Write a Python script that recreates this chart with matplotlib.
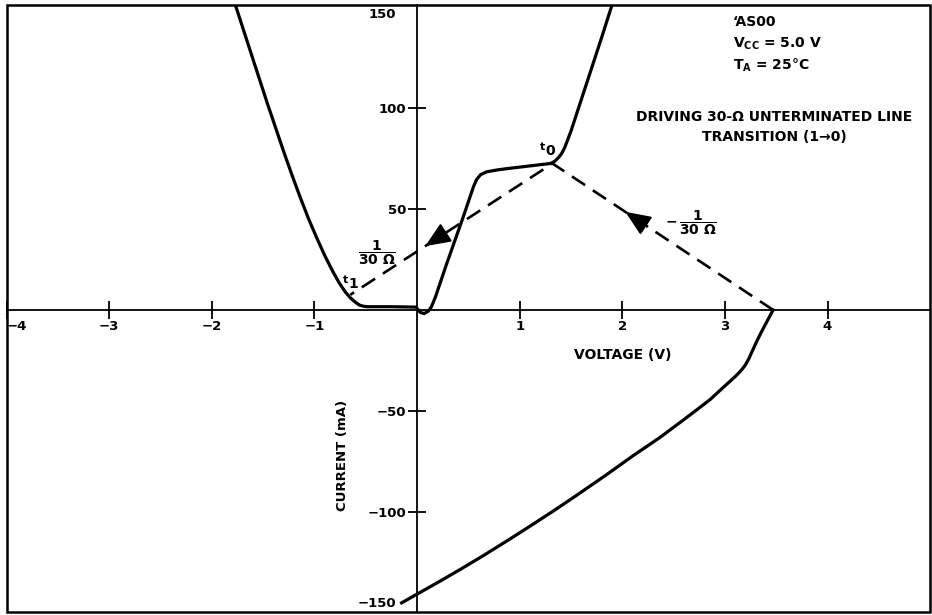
import numpy as np
import matplotlib
matplotlib.use('Agg')
import matplotlib.pyplot as plt
from matplotlib.patches import Rectangle

plt.rcParams['font.family'] = ['DejaVu Sans']
plt.rcParams['font.weight'] = 'bold'
plt.rcParams['mathtext.fontset'] = 'custom'
plt.rcParams['mathtext.rm'] = 'DejaVu Sans:bold'
plt.rcParams['mathtext.it'] = 'DejaVu Sans:bold'
plt.rcParams['mathtext.bf'] = 'DejaVu Sans:bold'

# low-state output characteristic (V, mA)
low_v = [-1.77, -1.70, -1.62, -1.54, -1.46, -1.38, -1.30, -1.22, -1.14, -1.06,
         -0.98, -0.90, -0.82, -0.76, -0.70, -0.65, -0.60, -0.56, -0.52, -0.48,
         -0.25, -0.01, 0.03, 0.07, 0.11, 0.14, 0.18, 0.23, 0.29, 0.37, 0.45,
         0.51, 0.55, 0.58, 0.62, 0.68, 0.78, 0.90, 1.10, 1.30, 1.34, 1.38,
         1.41, 1.44, 1.50, 1.60, 1.70, 1.80, 1.90]
low_i = [151, 140, 127.5, 115, 102.5, 90.5, 78.5, 67, 56, 45.5,
         36, 27, 19, 13.5, 9, 6, 3.8, 2.4, 1.8, 1.6,
         1.6, 1.4, -1.2, -1.8, -0.6, 1.5, 6.5, 14, 23, 34.5, 46,
         55, 61, 64.5, 67, 68.4, 69.3, 70.1, 71.3, 72.5, 73.5, 75.5,
         77.5, 80.5, 88.5, 104, 119.5, 135, 151]

# high-state output characteristic
high_v = [3.47, 3.43, 3.39, 3.35, 3.31, 3.27, 3.235, 3.20, 3.16, 3.10, 3.02,
          2.94, 2.86, 2.73, 2.60, 2.36, 2.11, 1.84, 1.56, 1.35, 1.13, 0.89,
          0.65, 0.43, 0.22, 0.0, -0.15]
high_i = [0, -3.8, -7.6, -11.5, -15.6, -20, -24, -27.2, -29.9, -33, -36.7,
          -40.4, -44.2, -49.3, -54.3, -63.4, -72, -81.8, -91.6, -98.8, -106.1,
          -113.9, -121.5, -128.2, -134.4, -140.7, -145]

# 30 ohm load lines: start -> t0 -> t1
load_v = [3.47, 1.32, -0.65]
load_i = [0, 72.5, 7.5]

xticks = [-4, -3, -2, -1, 1, 2, 3, 4]
yticks = [-100, -50, 50, 100]

fig = plt.figure(figsize=(9.32, 6.15), dpi=100)
ax = fig.add_axes([0.007, 0.005, 0.991, 0.987])
ax.set_xlim(-4, 5)
ax.set_ylim(-149.5, 151)

ax.plot(low_v, low_i, color='black', lw=2.3, solid_joinstyle='round')
ax.plot(high_v, high_i, color='black', lw=2.3, solid_joinstyle='round')
ax.plot(load_v, load_i, color='black', lw=1.9, dashes=(6, 3.5))


def arrow_on(i, f_tip, f_tail):
    v0, v1 = load_v[i], load_v[i + 1]
    c0, c1 = load_i[i], load_i[i + 1]
    tip = (v0 + (v1 - v0) * f_tip, c0 + (c1 - c0) * f_tip)
    tail = (v0 + (v1 - v0) * f_tail, c0 + (c1 - c0) * f_tail)
    ax.annotate('', xy=tip, xytext=tail,
                arrowprops=dict(arrowstyle='-|>,head_length=1.3,head_width=0.55',
                                mutation_scale=12, color='black', lw=1.5,
                                shrinkA=0, shrinkB=0))


arrow_on(0, 0.67, 0.57)
arrow_on(1, 0.63, 0.54)

# axes through the origin, plus the outer frame
for s in ['top', 'right']:
    ax.spines[s].set_visible(False)
ax.spines['left'].set_position(('data', 0))
ax.spines['bottom'].set_position(('data', 0))
ax.spines['left'].set_linewidth(1.3)
ax.spines['bottom'].set_linewidth(1.3)
ax.add_patch(Rectangle((0, 0), 1, 1, transform=ax.transAxes, fill=False,
                       lw=1.8, clip_on=False))

ax.set_xticks(xticks)
ax.set_xticklabels([f'{t}'.replace('-', '\u2212') for t in xticks])
ax.set_yticks(yticks)
ax.set_yticklabels([f'{t}'.replace('-', '\u2212') for t in yticks])
ax.tick_params(direction='inout', length=13, width=1.3, labelsize=9.5, pad=1)
ax.get_xticklabels()[0].set_ha('left')

ax.text(-0.2, 146.5, '150', ha='right', va='center', fontsize=9.5)
ax.text(-0.2, -145.5, '\u2212150', ha='right', va='center', fontsize=9.5)

ax.text(2.0, -22.3, 'VOLTAGE (V)', ha='center', va='center', fontsize=10)
ax.text(-0.73, -72, 'CURRENT (mA)', ha='center', va='center', rotation=90,
        fontsize=9.5)

ax.text(3.08, 142.6, '\u2018AS00', ha='left', va='center', fontsize=10)
ax.text(3.08, 131.7, r'V$_{\mathrm{CC}}$ = 5.0 V', ha='left', va='center', fontsize=10)
ax.text(3.08, 121, r'T$_{\mathrm{A}}$ = 25$\degree$C', ha='left', va='center', fontsize=10)
ax.text(3.48, 95.5, 'DRIVING 30-\u03a9 UNTERMINATED LINE', ha='center',
        va='center', fontsize=10)
ax.text(3.48, 85.6, 'TRANSITION (1\u21920)', ha='center', va='center', fontsize=10)

ax.text(1.22, 80.5, 't', ha='center', va='center', fontsize=8)
ax.text(1.30, 78.5, '0', ha='center', va='center', fontsize=10)
ax.text(-0.70, 15, 't', ha='center', va='center', fontsize=8)
ax.text(-0.62, 13, '1', ha='center', va='center', fontsize=10)

ax.text(-0.39, 28.5, r'$\dfrac{1}{30\ \Omega}$', ha='center', va='center',
        fontsize=10)
ax.text(2.67, 43, r'$-\,\dfrac{1}{30\ \Omega}$', ha='center', va='center',
        fontsize=10)

fig.savefig('out.png', dpi=100)
